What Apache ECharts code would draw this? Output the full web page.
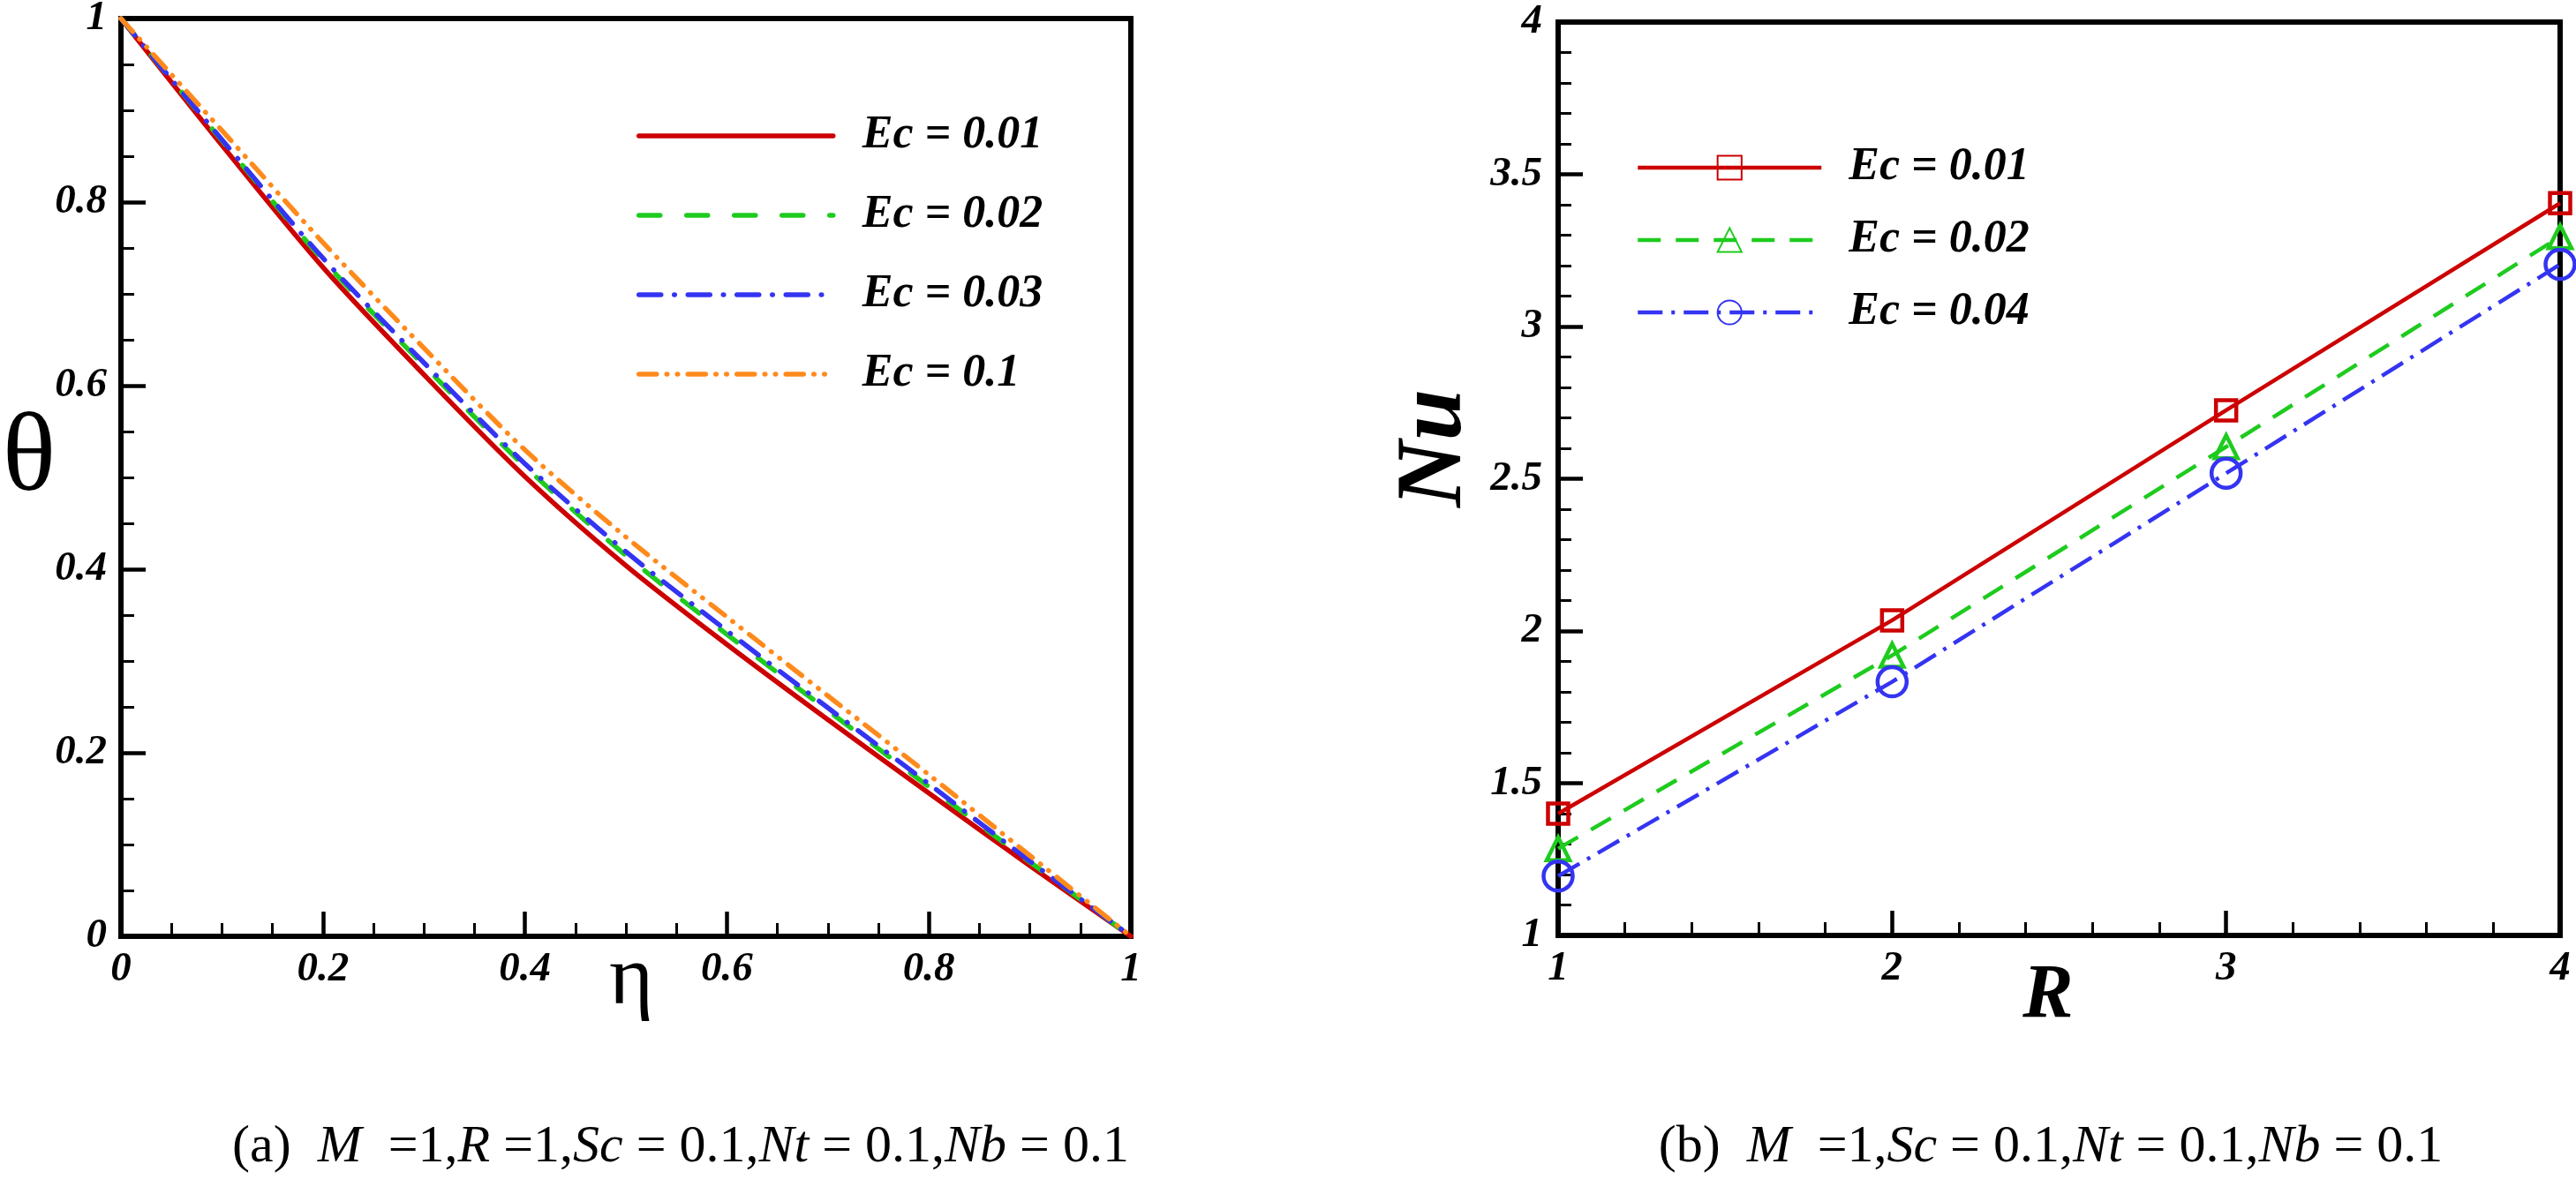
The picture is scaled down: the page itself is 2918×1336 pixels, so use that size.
<!DOCTYPE html>
<html>
<head>
<meta charset="utf-8">
<script src="https://cdn.jsdelivr.net/npm/echarts@6/dist/echarts.min.js"></script>
<style>html,body{margin:0;padding:0;background:#fff}#c{width:2918px;height:1336px}</style>
</head>
<body>
<div id="c"></div>
<script>
// ---- data ----
const etaValues = [0, 0.1, 0.2, 0.3, 0.4, 0.5, 0.6, 0.7, 0.8, 0.9, 1];
const thetaEc001 = [1, 0.862, 0.729, 0.612, 0.501, 0.404, 0.318, 0.236, 0.156, 0.077, 0];
const thetaEc002 = [1, 0.867, 0.737, 0.622, 0.512, 0.415, 0.329, 0.246, 0.163, 0.081, 0];
const thetaEc003 = [1, 0.868, 0.739, 0.625, 0.515, 0.419, 0.333, 0.249, 0.166, 0.082, 0];
const thetaEc01  = [1, 0.878, 0.756, 0.641, 0.530, 0.435, 0.348, 0.262, 0.176, 0.088, 0];
const leftNames = ['Ec = 0.01', 'Ec = 0.02', 'Ec = 0.03', 'Ec = 0.1'];

const rValues = [1, 2, 3, 4];
const nuEc001 = [1.400, 2.035, 2.725, 3.405];
const nuEc002 = [1.285, 1.920, 2.605, 3.295];
const nuEc004 = [1.195, 1.833, 2.518, 3.204];
const rightNames = ['Ec = 0.01', 'Ec = 0.02', 'Ec = 0.04'];

const captionA = ['(a)  ', 'M', '  =1,', 'R', ' =1,', 'Sc', ' = 0.1,', 'Nt', ' = 0.1,', 'Nb', ' = 0.1'];
const captionB = ['(b)  ', 'M', '  =1,', 'Sc', ' = 0.1,', 'Nt', ' = 0.1,', 'Nb', ' = 0.1'];

// ---- styles ----
const SERIF = '"Liberation Serif", "Times New Roman", serif';
const RED = '#cc0000', GREEN = '#1ecb1e', BLUE = '#3434f2', ORANGE = '#ff8a1c';
const tickLabel = { fontFamily: SERIF, fontStyle: 'italic', fontWeight: 'bold', fontSize: 47, color: '#000' };

function zip(xs, ys) { return xs.map((x, i) => [x, ys[i]]); }
const rightSeriesNames = rightNames.map(n => n + ' ');

function valueAxis(gridIndex, min, max, interval, minorSplit, margin) {
  return {
    type: 'value', gridIndex, min, max, interval,
    axisLine: { show: true, onZero: false, lineStyle: { color: '#000', width: 6 } },
    axisTick: { show: true, inside: true, length: 28, lineStyle: { color: '#000', width: 4.5 } },
    minorTick: { show: true, splitNumber: minorSplit, length: 15, lineStyle: { color: '#000', width: 3 } },
    splitLine: { show: false },
    minorSplitLine: { show: false },
    axisLabel: Object.assign({ margin: margin }, tickLabel)
  };
}

function leftLine(name, data, color, dash) {
  return {
    type: 'line', name, xAxisIndex: 0, yAxisIndex: 0,
    data, smooth: 0.3, symbol: 'none', showSymbol: false,
    lineStyle: { color, width: 5.5, type: dash || 'solid', cap: 'round' },
    itemStyle: { color }, z: 3
  };
}
function rightLine(name, data, color, dash, symbol, size) {
  return {
    type: 'line', name, xAxisIndex: 1, yAxisIndex: 1,
    data, symbol, symbolSize: size, showSymbol: true,
    lineStyle: { color, width: 4.5, type: dash || 'solid', cap: 'butt' },
    itemStyle: { color: 'rgba(0,0,0,0)', borderColor: color, borderWidth: 4.5 }, z: 3
  };
}

function rich(parts) {
  return parts.map((p, i) => (i % 2 === 1 ? '{i|' : '{r|') + p + '}').join('');
}
const capRich = {
  r: { fontFamily: SERIF, fontSize: 60, fontStyle: 'normal', color: '#000' },
  i: { fontFamily: SERIF, fontSize: 60, fontStyle: 'italic', color: '#000' }
};

const chart = echarts.init(document.getElementById('c'), null, { renderer: 'canvas' });
chart.setOption({
  backgroundColor: '#fff',
  animation: false,
  grid: [
    { left: 137, top: 21, width: 1144, height: 1040, show: true, borderColor: '#000', borderWidth: 6, backgroundColor: 'transparent', containLabel: false, outerBoundsMode: 'none' },
    { left: 1765, top: 25, width: 1135, height: 1035, show: true, borderColor: '#000', borderWidth: 6, backgroundColor: 'transparent', containLabel: false, outerBoundsMode: 'none' }
  ],
  xAxis: [
    valueAxis(0, 0, 1, 0.2, 4, 14),
    valueAxis(1, 1, 4, 1, 5, 14)
  ],
  yAxis: [
    valueAxis(0, 0, 1, 0.2, 4, 16),
    valueAxis(1, 1, 4, 0.5, 5, 18)
  ],
  legend: [
    {
      data: leftNames, orient: 'vertical', left: 721, top: 128, padding: 0,
      itemWidth: 220, itemHeight: 28, itemGap: 38,
      itemStyle: { opacity: 0 },
      lineStyle: { width: 5.5 },
      textStyle: { fontFamily: SERIF, fontStyle: 'italic', fontWeight: 'bold', fontSize: 52, lineHeight: 28, color: '#000', padding: [0, 0, 0, 28] },
      selectedMode: false
    },
    {
      data: rightSeriesNames, orient: 'vertical', left: 1853, top: 164, padding: 0,
      itemWidth: 208, itemHeight: 34, itemGap: 30,
      lineStyle: { width: 4.5 },
      textStyle: { fontFamily: SERIF, fontStyle: 'italic', fontWeight: 'bold', fontSize: 52, lineHeight: 34, color: '#000', padding: [0, 0, 0, 26] },
      selectedMode: false
    }
  ],
  series: [
    leftLine(leftNames[0], zip(etaValues, thetaEc001), RED),
    leftLine(leftNames[1], zip(etaValues, thetaEc002), GREEN, [24, 30]),
    leftLine(leftNames[2], zip(etaValues, thetaEc003), BLUE, [25, 15, 0.5, 15]),
    leftLine(leftNames[3], zip(etaValues, thetaEc01), ORANGE, [20, 11.5, 0.5, 11.5, 0.5, 11.5]),
    rightLine(rightSeriesNames[0], zip(rValues, nuEc001), RED, 'solid', 'rect', 23),
    rightLine(rightSeriesNames[1], zip(rValues, nuEc002), GREEN, [26, 17], 'triangle', 26),
    rightLine(rightSeriesNames[2], zip(rValues, nuEc004), BLUE, [28, 10, 4, 10], 'circle', 33)
  ],
  graphic: [
    { type: 'text', x: 33, y: 522, style: { text: 'θ', font: '126px ' + SERIF, fill: '#000', align: 'center', verticalAlign: 'middle', textAlign: 'center', textVerticalAlign: 'middle' } },
    { type: 'text', x: 715, y: 1112, style: { text: 'η', font: '96px ' + SERIF, fill: '#000', align: 'center', verticalAlign: 'middle', textAlign: 'center', textVerticalAlign: 'middle' } },
    { type: 'text', x: 1627, y: 508, rotation: Math.PI / 2, style: { text: 'Nu', font: 'italic bold 105px ' + SERIF, fill: '#000', align: 'center', verticalAlign: 'middle', textAlign: 'center', textVerticalAlign: 'middle' } },
    { type: 'text', x: 2320, y: 1130, style: { text: 'R', font: 'italic bold 86px ' + SERIF, fill: '#000', align: 'center', verticalAlign: 'middle', textAlign: 'center', textVerticalAlign: 'middle' } },
    { type: 'text', x: 771, y: 1300, style: { text: rich(captionA), rich: capRich, fill: '#000', align: 'center', verticalAlign: 'middle', textAlign: 'center', textVerticalAlign: 'middle' } },
    { type: 'text', x: 2323, y: 1300, style: { text: rich(captionB), rich: capRich, fill: '#000', align: 'center', verticalAlign: 'middle', textAlign: 'center', textVerticalAlign: 'middle' } }
  ]
});
</script>
</body>
</html>
